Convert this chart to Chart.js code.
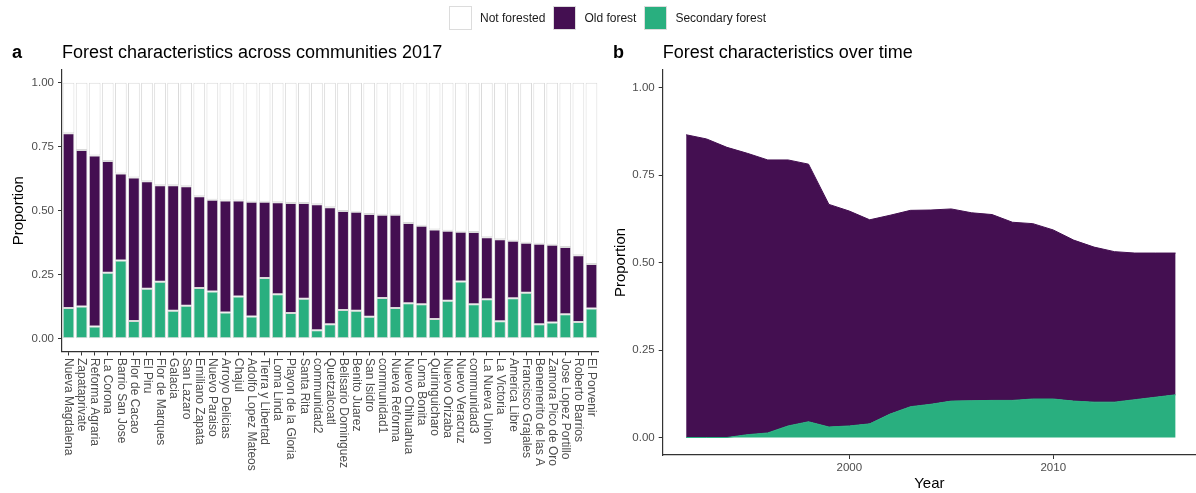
<!DOCTYPE html>
<html>
<head>
<meta charset="utf-8">
<script src="https://cdn.jsdelivr.net/npm/chart.js@4.4.1/dist/chart.umd.min.js"></script>
<style>
  body { margin: 0; background: #fff; }
  #wrap { position: relative; width: 1196px; height: 493px; }
  canvas { position: absolute; top: 0; }
  #legend { position: absolute; left: 449px; top: 6px; display: flex; align-items: center;
            font: 12px "Liberation Sans", Arial, sans-serif; color: #1a1a1a; z-index: 2; }
  #legend .key { width: 23px; height: 24px; box-sizing: border-box; border: 1px solid #dcdcdc; margin-right: 8px; }
  #legend .lab { margin-right: 8px; white-space: nowrap; }
</style>
</head>
<body>
<div id="wrap">
  <canvas id="chart-a" width="605" height="493" style="left:0"></canvas>
  <canvas id="chart-b" width="591" height="493" style="left:605px"></canvas>
  <div id="legend"></div>
</div>
<script>
// panel a: communities 2017
const communities = ['Nueva Magdalena', 'Zapataprivate', 'Reforma Agraria', 'La Corona', 'Barrio San Jose',
  'Flor de Cacao', 'El Piru', 'Flor de Marques', 'Galacia', 'San Lazaro', 'Emiliano Zapata', 'Nuevo Paraiso',
  'Arroyo Delicias', 'Chajul', 'Adolfo Lopez Mateos', 'Tierra y Libertad', 'Loma Linda', 'Playon de la Gloria',
  'Santa Rita', 'communidad2', 'Quetzalcoatl', 'Belisario Dominguez', 'Benito Juarez', 'San Isidro',
  'communidad1', 'Nueva Reforma', 'Nuevo Chihuahua', 'Loma Bonita', 'Quiringuicharo', 'Nuevo Orizaba',
  'Nuevo Veracruz', 'communidad3', 'La Nueva Union', 'La Victoria', 'America Libre', 'Francisco Grajales',
  'Benemerito de las A', 'Zamora Pico de Oro', 'Jose Lopez Portillo', 'Roberto Barrios', 'El Porvenir'];
const secondaryForest2017 = [0.120, 0.126, 0.048, 0.258, 0.306, 0.069, 0.195, 0.223, 0.109, 0.129, 0.198,
  0.184, 0.102, 0.165, 0.087, 0.237, 0.174, 0.100, 0.156, 0.033, 0.056, 0.112, 0.109, 0.086, 0.159, 0.120,
  0.139, 0.135, 0.077, 0.148, 0.224, 0.135, 0.154, 0.068, 0.158, 0.180, 0.056, 0.063, 0.096, 0.065, 0.118];
const oldForest2017 = [0.683, 0.611, 0.668, 0.436, 0.340, 0.561, 0.420, 0.377, 0.491, 0.467, 0.359,
  0.359, 0.438, 0.375, 0.448, 0.298, 0.359, 0.430, 0.374, 0.492, 0.458, 0.387, 0.387, 0.401, 0.325, 0.364,
  0.313, 0.306, 0.350, 0.274, 0.194, 0.282, 0.242, 0.321, 0.225, 0.195, 0.315, 0.304, 0.262, 0.261, 0.174];

// panel b: over time
const years = [1992, 1993, 1994, 1995, 1996, 1997, 1998, 1999, 2000, 2001, 2002, 2003, 2004,
  2005, 2006, 2007, 2008, 2009, 2010, 2011, 2012, 2013, 2014, 2015, 2016];
const secondaryByYear = [0, 0, 0, 0.008, 0.013, 0.033, 0.045, 0.030, 0.033, 0.039, 0.067, 0.088, 0.095,
  0.104, 0.105, 0.106, 0.106, 0.110, 0.110, 0.104, 0.101, 0.101, 0.108, 0.115, 0.122];
const oldByYear = [0.865, 0.853, 0.829, 0.804, 0.780, 0.760, 0.736, 0.636, 0.614, 0.583, 0.568, 0.561, 0.555,
  0.549, 0.537, 0.531, 0.509, 0.501, 0.483, 0.460, 0.443, 0.430, 0.419, 0.412, 0.405];

const yTicks = [0, 0.25, 0.5, 0.75, 1];
const yearTicks = [2000, 2010];

const legendNames = ['Not forested', 'Old forest', 'Secondary forest'];
const colours = { 'Not forested': '#ffffff', 'Old forest': '#440f51', 'Secondary forest': '#29af7f' };

const FONT = '"Liberation Sans", Arial, sans-serif';
Chart.defaults.font.family = FONT;

// legend shared by both panels
const legend = document.getElementById('legend');
legendNames.forEach(name => {
  const key = document.createElement('div');
  key.className = 'key';
  key.style.background = colours[name];
  const lab = document.createElement('span');
  lab.className = 'lab';
  lab.textContent = name;
  legend.appendChild(key);
  legend.appendChild(lab);
});

// "a"/"b" letter plus title
const panelTitle = {
  id: 'panelTitle',
  afterDraw(chart, args, opts) {
    const ctx = chart.ctx;
    ctx.save();
    ctx.fillStyle = '#000';
    ctx.textBaseline = 'alphabetic';
    ctx.textAlign = 'left';
    ctx.font = 'bold 18px ' + FONT;
    ctx.fillText(opts.letter, opts.letterX, 58);
    ctx.font = '18px ' + FONT;
    ctx.fillText(opts.text, chart.chartArea.left, 58);
    ctx.restore();
  }
};

// x labels turned clockwise, reading downwards from the axis
const verticalLabels = {
  id: 'verticalLabels',
  afterDraw(chart) {
    const ctx = chart.ctx, xs = chart.scales.x;
    ctx.save();
    ctx.font = '12px ' + FONT;
    ctx.fillStyle = '#4d4d4d';
    ctx.textAlign = 'left';
    ctx.textBaseline = 'middle';
    chart.data.labels.forEach((name, i) => {
      ctx.save();
      ctx.translate(xs.getPixelForTick(i), xs.top + 6.5);
      ctx.rotate(Math.PI / 2);
      ctx.fillText(name, 0, 0);
      ctx.restore();
    });
    ctx.restore();
  }
};

const axisBits = {
  grid: { drawOnChartArea: false, tickLength: 4, tickColor: '#333', tickWidth: 1 },
  border: { color: '#333', width: 1.2 }
};

new Chart(document.getElementById('chart-a'), {
  type: 'bar',
  data: {
    labels: communities,
    datasets: [{
      label: 'Secondary forest',
      data: secondaryForest2017,
      backgroundColor: colours['Secondary forest']
    }, {
      label: 'Old forest',
      data: oldForest2017,
      backgroundColor: colours['Old forest']
    }, {
      label: 'Not forested',
      data: oldForest2017.map((v, i) => 1 - v - secondaryForest2017[i]),
      backgroundColor: colours['Not forested']
    }].map(d => Object.assign(d, {
      borderColor: '#dadada', borderWidth: 1, borderSkipped: false,
      barPercentage: 0.9, categoryPercentage: 1
    }))
  },
  options: {
    responsive: false,
    animation: false,
    layout: { padding: { top: 70, right: 7, left: 0, bottom: 0 } },
    plugins: {
      legend: { display: false },
      tooltip: { enabled: false },
      panelTitle: { letter: 'a', letterX: 12, text: 'Forest characteristics across communities 2017' }
    },
    scales: {
      x: {
        stacked: true,
        offset: true,
        ticks: { display: false, autoSkip: false },
        grid: Object.assign({}, axisBits.grid, { offset: false }),
        border: axisBits.border,
        afterFit: s => { s.height = 141.5; }
      },
      y: {
        stacked: true,
        min: -0.05, max: 1.05,
        afterBuildTicks: s => { s.ticks = yTicks.map(v => ({ value: v })); },
        ticks: { callback: v => v.toFixed(2), color: '#4d4d4d', font: { size: 11.5 }, padding: 4 },
        grid: axisBits.grid,
        border: axisBits.border,
        title: { display: true, text: 'Proportion', color: '#000', font: { size: 15 }, padding: { top: 10, bottom: 0 } },
        afterFit: s => { s.width = 62; }
      }
    }
  },
  plugins: [panelTitle, verticalLabels]
});

new Chart(document.getElementById('chart-b'), {
  type: 'line',
  data: {
    datasets: [{
      label: 'Secondary forest',
      data: years.map((y, i) => ({ x: y, y: secondaryByYear[i] })),
      backgroundColor: colours['Secondary forest'],
      borderColor: colours['Secondary forest'],
      fill: 'origin'
    }, {
      label: 'Old forest',
      data: years.map((y, i) => ({ x: y, y: oldByYear[i] })),
      backgroundColor: colours['Old forest'],
      borderColor: colours['Old forest'],
      fill: '-1'
    }].map(d => Object.assign(d, { borderWidth: 1, pointRadius: 0, tension: 0 }))
  },
  options: {
    responsive: false,
    animation: false,
    layout: { padding: { top: 70, right: 0, left: 0, bottom: 0 } },
    plugins: {
      legend: { display: false },
      tooltip: { enabled: false },
      panelTitle: { letter: 'b', letterX: 8, text: 'Forest characteristics over time' }
    },
    scales: {
      x: {
        type: 'linear',
        min: 1990.85, max: 2017,
        afterBuildTicks: s => { s.ticks = yearTicks.map(v => ({ value: v })); },
        ticks: { callback: v => String(v), color: '#4d4d4d', font: { size: 11.5 }, padding: 2 },
        grid: axisBits.grid,
        border: axisBits.border,
        title: { display: true, text: 'Year', color: '#000', font: { size: 15 }, padding: { top: 0, bottom: 0 } },
        afterFit: s => { s.height = 38; }
      },
      y: {
        stacked: true,
        min: -0.05, max: 1.05,
        afterBuildTicks: s => { s.ticks = yTicks.map(v => ({ value: v })); },
        ticks: { callback: v => v.toFixed(2), color: '#4d4d4d', font: { size: 11.5 }, padding: 4 },
        grid: axisBits.grid,
        border: axisBits.border,
        title: { display: true, text: 'Proportion', color: '#000', font: { size: 15 }, padding: { top: 7, bottom: 0 } },
        afterFit: s => { s.width = 57.7; }
      }
    }
  },
  plugins: [panelTitle]
});
</script>
</body>
</html>
